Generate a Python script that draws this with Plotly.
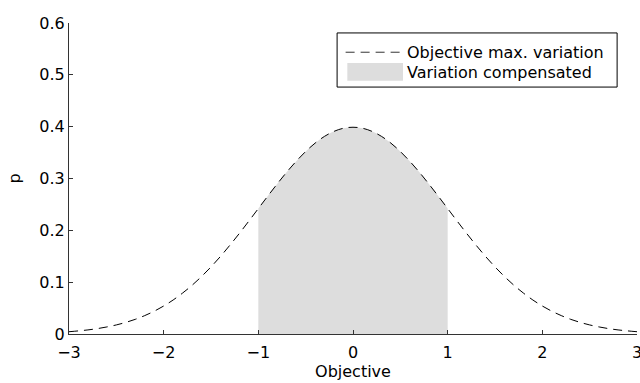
import plotly.graph_objects as go

# Objective values and the density p (step 0.1)
objective = [round(-3 + 0.1 * i, 1) for i in range(61)]
p_left = [0.0044, 0.0060, 0.0079, 0.0104, 0.0136, 0.0175, 0.0224, 0.0283, 0.0355, 0.0440,
          0.0540, 0.0656, 0.0790, 0.0940, 0.1109, 0.1295, 0.1497, 0.1714, 0.1942, 0.2179,
          0.2420, 0.2661, 0.2897, 0.3123, 0.3332, 0.3521, 0.3683, 0.3814, 0.3910, 0.3970]
p_peak = [0.3989]
p_values = p_left + p_peak + p_left[::-1]

# Compensated band limits
band_lo, band_hi = -1.0, 1.0
x_ticks = [-3, -2, -1, 0, 1, 2, 3]
x_tick_text = ["\u22123", "\u22122", "\u22121", "0", "1", "2", "3"]
y_ticks = [0, 0.1, 0.2, 0.3, 0.4, 0.5, 0.6]
y_tick_text = ["0", "0.1", "0.2", "0.3", "0.4", "0.5", "0.6"]

band_x = [x for x in objective if band_lo - 1e-9 <= x <= band_hi + 1e-9]
band_y = [p for x, p in zip(objective, p_values) if band_lo - 1e-9 <= x <= band_hi + 1e-9]

font = "DejaVu Sans, Arial, sans-serif"
fsize = 16
dash = "9px,6px"
fig = go.Figure()
fig.add_trace(go.Scatter(
    x=band_x, y=band_y, mode="lines", fill="tozeroy",
    fillcolor="#dddddd", line=dict(width=0, shape="spline"),
    name="Variation compensated", showlegend=False, hoverinfo="skip"))
fig.add_trace(go.Scatter(
    x=objective, y=p_values, mode="lines",
    line=dict(color="black", width=1, dash=dash, shape="spline"),
    name="Objective max. variation", showlegend=False))

# Legend box drawn in paper coordinates
fig.add_shape(type="rect", xref="paper", yref="paper", x0=0.472, x1=0.965, y0=0.794, y1=0.968,
              line=dict(color="black", width=1), fillcolor="white", layer="above")
fig.add_shape(type="line", xref="paper", yref="paper", x0=0.487, x1=0.588, y0=0.906, y1=0.906,
              line=dict(color="#333333", width=1, dash=dash), layer="above")
fig.add_shape(type="rect", xref="paper", yref="paper", x0=0.490, x1=0.588, y0=0.814, y1=0.871,
              line=dict(width=0), fillcolor="#dddddd", layer="above")
fig.add_annotation(xref="paper", yref="paper", x=0.592, y=0.906, text="Objective max. variation",
                   showarrow=False, xanchor="left", yanchor="middle",
                   font=dict(family=font, size=fsize, color="black"))
fig.add_annotation(xref="paper", yref="paper", x=0.592, y=0.842, text="Variation compensated",
                   showarrow=False, xanchor="left", yanchor="middle",
                   font=dict(family=font, size=fsize, color="black"))

axis_common = dict(showline=True, linecolor="#333333", linewidth=1, ticks="inside",
                   ticklen=4, tickcolor="#333333", showgrid=False, zeroline=False,
                   mirror=False, automargin=False,
                   tickfont=dict(family=font, size=fsize, color="black"))
fig.update_xaxes(range=[-3, 3], tickvals=x_ticks, ticktext=x_tick_text,
                 ticklabeloverflow="allow", ticklabelstandoff=4,
                 title=dict(text="Objective", font=dict(family=font, size=fsize, color="black"),
                            standoff=4),
                 **axis_common)
fig.update_yaxes(range=[0, 0.6], tickvals=y_ticks, ticktext=y_tick_text,
                 title=dict(text="p", font=dict(family=font, size=fsize, color="black"),
                            standoff=14),
                 **axis_common)
fig.update_layout(width=640, height=383, margin=dict(l=69, r=3, t=23, b=49),
                  plot_bgcolor="white", paper_bgcolor="white", showlegend=False)
fig.write_html("out.html")
